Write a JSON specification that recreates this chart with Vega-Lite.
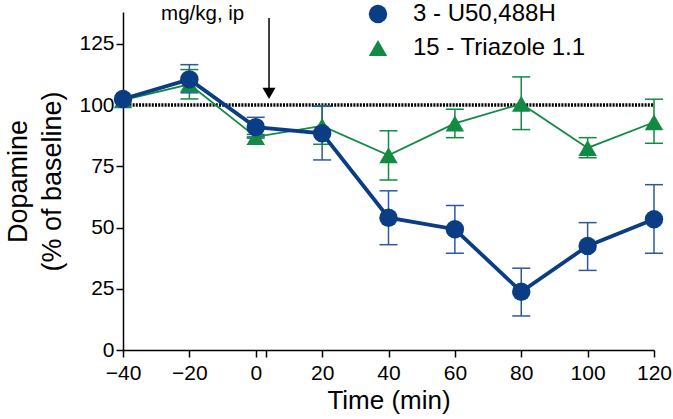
{
  "$schema": "https://vega.github.io/schema/vega-lite/v6.json",
  "autosize": "none",
  "width": 531,
  "height": 338,
  "padding": {"left": 123, "top": 12, "right": 19, "bottom": 69},
  "config": {
    "font": "Liberation Sans",
    "view": {"stroke": null},
    "axis": {"grid": false, "domainColor": "#000", "tickColor": "#000", "labelColor": "#000", "titleColor": "#000", "domainWidth": 1.5, "tickWidth": 1.5}
  },
  "datasets": {
    "obs": [
      {"series": "3 - U50,488H", "time": -40, "mean": 102.5, "lo": 102.5, "hi": 102.5},
      {"series": "3 - U50,488H", "time": -20, "mean": 110.5, "lo": 105, "hi": 116.5},
      {"series": "3 - U50,488H", "time": 0, "mean": 91, "lo": 87, "hi": 95},
      {"series": "3 - U50,488H", "time": 20, "mean": 88.5, "lo": 77.6, "hi": 99.5},
      {"series": "3 - U50,488H", "time": 40, "mean": 54, "lo": 43, "hi": 65},
      {"series": "3 - U50,488H", "time": 60, "mean": 49.3, "lo": 39.5, "hi": 59},
      {"series": "3 - U50,488H", "time": 80, "mean": 23.8, "lo": 13.9, "hi": 33.4},
      {"series": "3 - U50,488H", "time": 100, "mean": 42.5, "lo": 32.5, "hi": 52},
      {"series": "3 - U50,488H", "time": 120, "mean": 53.4, "lo": 39.5, "hi": 67.5},
      {"series": "15 - Triazole 1.1", "time": -40, "mean": 102, "lo": 102, "hi": 102},
      {"series": "15 - Triazole 1.1", "time": -20, "mean": 108.5, "lo": 102.5, "hi": 114.5},
      {"series": "15 - Triazole 1.1", "time": 0, "mean": 87, "lo": 86.5, "hi": 88},
      {"series": "15 - Triazole 1.1", "time": 20, "mean": 91.5, "lo": 84, "hi": 99.7},
      {"series": "15 - Triazole 1.1", "time": 40, "mean": 79.5, "lo": 69.4, "hi": 89.5},
      {"series": "15 - Triazole 1.1", "time": 60, "mean": 92.5, "lo": 86.7, "hi": 98.3},
      {"series": "15 - Triazole 1.1", "time": 80, "mean": 100.5, "lo": 90, "hi": 111.5},
      {"series": "15 - Triazole 1.1", "time": 100, "mean": 82.5, "lo": 78.5, "hi": 86.7},
      {"series": "15 - Triazole 1.1", "time": 120, "mean": 93, "lo": 84.4, "hi": 102.4}
    ],
    "baseline": [{"t0": -40, "t1": 120, "v": 100}],
    "arrow": [{"t": 4, "top": 135.6, "bottom": 106, "tip": 104.8, "label": "mg/kg, ip", "lt": -16, "lv": 137}]
  },
  "encoding": {
    "x": {"type": "quantitative"},
    "y": {"type": "quantitative"}
  },
  "layer": [
    {
      "data": {"name": "baseline"},
      "mark": {"type": "rule", "color": "#000", "strokeWidth": 3.5, "strokeDash": [2, 1.2]},
      "encoding": {
        "x": {"field": "t0", "type": "quantitative",
          "scale": {"domain": [-40, 120], "nice": false, "zero": false},
          "axis": {"values": [-40, -20, 0, 3, 20, 40, 60, 80, 100, 120], "labelExpr": "datum.value == 3 ? '' : datum.label", "title": "Time (min)", "titleFontSize": 26, "titleFontWeight": "normal", "titlePadding": 4, "labelFontSize": 21, "tickSize": 7, "labelPadding": 5, "labelFlush": false, "labelOverlap": false}},
        "x2": {"field": "t1"},
        "y": {"field": "v", "type": "quantitative",
          "scale": {"domain": [0, 138], "nice": false},
          "axis": {"values": [0, 25, 50, 75, 100, 125], "title": ["Dopamine", "(% of baseline)"], "titleFontSize": 27, "titleFontWeight": "normal", "titleLineHeight": 34, "titlePadding": 12, "labelFontSize": 21, "tickSize": 7, "labelPadding": 2}}
      }
    },
    {
      "data": {"name": "arrow"},
      "layer": [
        {"mark": {"type": "rule", "color": "#000", "strokeWidth": 1.5},
         "encoding": {"x": {"field": "t", "type": "quantitative"}, "y": {"field": "top", "type": "quantitative"}, "y2": {"field": "bottom"}}},
        {"mark": {"type": "point", "shape": "triangle-down", "filled": true, "color": "#000", "size": 170, "opacity": 1},
         "encoding": {"x": {"field": "t", "type": "quantitative"}, "y": {"field": "tip", "type": "quantitative"}}},
        {"mark": {"type": "text", "fontSize": 20.5, "color": "#000", "align": "center", "baseline": "middle"},
         "encoding": {"x": {"field": "lt", "type": "quantitative"}, "y": {"field": "lv", "type": "quantitative"}, "text": {"field": "label"}}}
      ]
    },
    {
      "data": {"name": "obs"},
      "transform": [{"filter": "datum.series == '15 - Triazole 1.1'"}],
      "layer": [
        {"mark": {"type": "line", "color": "#138a43", "strokeWidth": 1.8},
         "encoding": {"x": {"field": "time", "type": "quantitative"}, "y": {"field": "mean", "type": "quantitative"}}},
        {"mark": {"type": "rule", "color": "#138a43", "strokeWidth": 1.5},
         "encoding": {"x": {"field": "time", "type": "quantitative"}, "y": {"field": "lo", "type": "quantitative"}, "y2": {"field": "hi"}}},
        {"mark": {"type": "tick", "orient": "horizontal", "color": "#138a43", "size": 18, "thickness": 1.5, "opacity": 1},
         "encoding": {"x": {"field": "time", "type": "quantitative"}, "y": {"field": "lo", "type": "quantitative"}}},
        {"mark": {"type": "tick", "orient": "horizontal", "color": "#138a43", "size": 18, "thickness": 1.5, "opacity": 1},
         "encoding": {"x": {"field": "time", "type": "quantitative"}, "y": {"field": "hi", "type": "quantitative"}}}
      ]
    },
    {
      "data": {"name": "obs"},
      "transform": [{"filter": "datum.series == '3 - U50,488H'"}],
      "layer": [
        {"mark": {"type": "line", "color": "#0b3d85", "strokeWidth": 3.8},
         "encoding": {"x": {"field": "time", "type": "quantitative"}, "y": {"field": "mean", "type": "quantitative"}}},
        {"mark": {"type": "rule", "color": "#2a5a9a", "strokeWidth": 1.5},
         "encoding": {"x": {"field": "time", "type": "quantitative"}, "y": {"field": "lo", "type": "quantitative"}, "y2": {"field": "hi"}}},
        {"mark": {"type": "tick", "orient": "horizontal", "color": "#2a5a9a", "size": 18, "thickness": 1.5, "opacity": 1},
         "encoding": {"x": {"field": "time", "type": "quantitative"}, "y": {"field": "lo", "type": "quantitative"}}},
        {"mark": {"type": "tick", "orient": "horizontal", "color": "#2a5a9a", "size": 18, "thickness": 1.5, "opacity": 1},
         "encoding": {"x": {"field": "time", "type": "quantitative"}, "y": {"field": "hi", "type": "quantitative"}}}
      ]
    },
    {
      "data": {"name": "obs"},
      "transform": [{"calculate": "datum.series == '3 - U50,488H' ? 1 : 0", "as": "ord"}],
      "mark": {"type": "point", "filled": true, "opacity": 1, "size": 340},
      "encoding": {
        "x": {"field": "time", "type": "quantitative"},
        "y": {"field": "mean", "type": "quantitative"},
        "order": {"field": "ord"},
        "color": {"field": "series", "type": "nominal",
          "scale": {"domain": ["3 - U50,488H", "15 - Triazole 1.1"], "range": ["#0b3d85", "#138a43"]},
          "legend": {"orient": "none", "legendX": 243, "legendY": -10, "title": null, "labelFontSize": 24, "labelLimit": 400, "labelColor": "#000", "symbolSize": 340, "symbolStrokeWidth": 0, "labelOffset": 23, "rowPadding": 10, "symbolOpacity": 1}},
        "shape": {"field": "series", "type": "nominal",
          "scale": {"domain": ["3 - U50,488H", "15 - Triazole 1.1"], "range": ["circle", "triangle-up"]},
          "legend": {"orient": "none", "legendX": 243, "legendY": -10, "title": null, "labelFontSize": 24, "labelLimit": 400, "labelColor": "#000", "symbolSize": 340, "symbolStrokeWidth": 0, "labelOffset": 23, "rowPadding": 10, "symbolOpacity": 1}}
      }
    }
  ]
}
